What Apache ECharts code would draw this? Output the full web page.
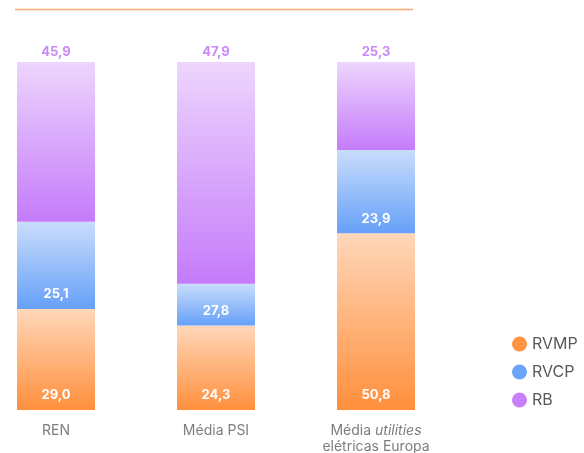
<!DOCTYPE html>
<html><head><meta charset="utf-8">
<script src="https://cdn.jsdelivr.net/npm/echarts@6/dist/echarts.min.js"></script>
<style>html,body{margin:0;padding:0;background:#fff}#c{width:584px;height:453px}</style>
</head><body><div id="c"></div>
<script>
const categories = ['REN', 'Média PSI', 'Média utilities elétricas Europa'];
// Printed values (labels)
const rvmp = [29.0, 24.3, 50.8];
const rvcp = [25.1, 27.8, 23.9];
const rb = [45.9, 47.9, 25.3];
// Segment heights as drawn in the reference (Média PSI's RVCP segment is drawn at ~12%)
const rvcpDrawn = [25.1, 12.0, 23.9];
const rbDrawn = [45.9, 63.7, 25.3];
const seriesNames = ['RVMP', 'RVCP', 'RB'];

const chart = echarts.init(document.getElementById('c'));
const fmtFrom = arr => p => arr[p.dataIndex].toFixed(1).replace('.', ',');
const grad = (top, bottom) => new echarts.graphic.LinearGradient(0, 0, 0, 1, [
  {offset: 0, color: top}, {offset: 1, color: bottom}
]);
const font = 'Inter, Roboto, sans-serif';
const innerLabel = arr => ({
  show: true, position: 'insideBottom', distance: 8, color: '#fff',
  fontWeight: 'bold', fontSize: 13, fontFamily: font, formatter: fmtFrom(arr)
});
chart.setOption({
  animation: false,
  graphic: [{type: 'line', shape: {x1: 15, y1: 9.5, x2: 413, y2: 9.5},
    style: {stroke: '#f7ab73', lineWidth: 1.5}}],
  legend: {
    orient: 'vertical', left: 507, top: 331, itemGap: 12,
    icon: 'circle', itemWidth: 15, itemHeight: 15,
    textStyle: {fontSize: 16, color: '#5a5a5a', fontFamily: font},
    data: [
      {name: seriesNames[0], itemStyle: {color: '#ff9342'}},
      {name: seriesNames[1], itemStyle: {color: '#6aa3f9'}},
      {name: seriesNames[2], itemStyle: {color: '#c97efa'}}
    ]
  },
  grid: {left: -24, right: 128, top: 62, bottom: 43, containLabel: false, outerBoundsMode: 'none'},
  xAxis: {
    type: 'category', data: categories,
    axisLine: {show: false}, axisTick: {show: false},
    axisLabel: {
      margin: 13, fontSize: 14, color: '#7d7d7d', fontFamily: font, lineHeight: 16,
      formatter: v => v === categories[2] ? 'Média {i|utilities}\nelétricas Europa' : v,
      rich: {i: {fontStyle: 'italic', fontSize: 14, color: '#7d7d7d', fontFamily: font, lineHeight: 16}}
    }
  },
  yAxis: {type: 'value', min: 0, max: 100, show: false},
  series: [
    {name: seriesNames[0], type: 'bar', stack: 't', barWidth: 78, data: rvmp,
      itemStyle: {color: grad('#ffd7ba', '#ff8f3c')}, label: innerLabel(rvmp)},
    {name: seriesNames[1], type: 'bar', stack: 't', barWidth: 78, data: rvcpDrawn,
      itemStyle: {color: grad('#c9ddfb', '#66a0f8')}, label: innerLabel(rvcp)},
    {name: seriesNames[2], type: 'bar', stack: 't', barWidth: 78, data: rbDrawn,
      itemStyle: {color: grad('#edd5fd', '#c57bfa')},
      label: {show: true, position: 'top', distance: 3, color: '#c98af7',
        fontWeight: 'bold', fontSize: 13, fontFamily: font, formatter: fmtFrom(rb)}}
  ]
});
</script></body></html>
